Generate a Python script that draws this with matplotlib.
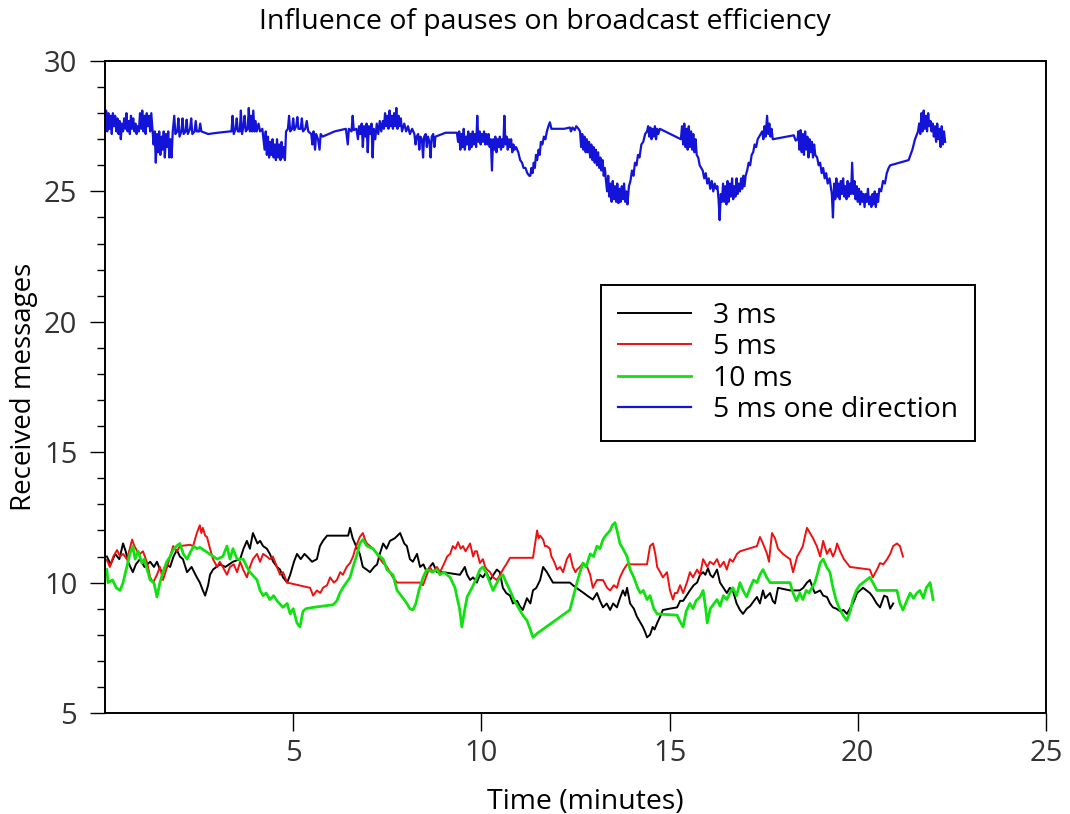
import matplotlib
matplotlib.use("Agg")
import matplotlib.pyplot as plt
from matplotlib.ticker import MultipleLocator

plt.rcParams['font.family'] = ['Open Sans', 'DejaVu Sans']

TITLE = "Influence of pauses on broadcast efficiency"
XLABEL = "Time (minutes)"
YLABEL = "Received messages"
LABELS = ["3 ms", "5 ms", "10 ms", "5 ms one direction"]
COLORS = ["#000000", "#ee1111", "#11e011", "#1414d8"]
XTICKS = [5, 10, 15, 20, 25]
YTICKS = [5, 10, 15, 20, 25, 30]

black_pts = [
    (0.05, 11.0), (0.15, 10.7), (0.27, 11.1), (0.38, 10.9), (0.48, 11.5), (0.55, 11.2), (0.61, 10.8),
    (0.74, 10.4), (0.82, 10.7), (0.93, 10.9), (1.05, 10.6), (1.20, 10.8), (1.30, 10.6), (1.38, 10.8),
    (1.46, 10.5), (1.54, 10.4), (1.62, 10.7), (1.73, 10.6), (1.82, 11.0), (1.91, 11.25), (1.99, 11.0),
    (2.07, 10.9), (2.18, 10.4), (2.30, 10.6), (2.44, 10.2), (2.52, 10.0), (2.60, 9.7), (2.66, 9.5),
    (2.74, 9.9), (2.79, 10.3), (2.87, 10.5), (3.05, 10.7), (3.20, 10.6), (3.40, 10.8), (3.59, 10.9),
    (3.68, 11.3), (3.77, 11.6), (3.85, 11.3), (3.93, 11.9), (4.05, 11.5), (4.12, 11.6), (4.20, 11.4),
    (4.30, 11.3), (4.38, 11.1), (4.47, 10.8), (4.57, 10.6), (4.65, 10.5), (4.73, 10.2), (4.84, 10.0),
    (4.92, 10.3), (5.02, 10.8), (5.10, 11.1), (5.20, 10.9), (5.30, 11.1), (5.37, 11.0), (5.50, 10.8),
    (5.63, 10.9), (5.71, 11.4), (5.79, 11.6), (5.90, 11.8), (6.46, 11.8), (6.51, 12.1), (6.58, 11.7),
    (6.64, 11.5), (6.70, 11.3), (6.77, 11.1), (6.85, 10.6), (6.95, 10.5), (7.04, 10.4), (7.15, 10.6),
    (7.23, 10.7), (7.30, 11.1), (7.39, 11.5), (7.48, 11.3), (7.57, 11.6), (7.70, 11.7), (7.84, 11.9),
    (7.95, 11.5), (8.02, 11.4), (8.10, 10.9), (8.18, 10.8), (8.29, 11.1), (8.37, 10.6), (8.46, 10.7),
    (8.55, 10.4), (8.63, 10.6), (8.71, 10.75), (8.82, 10.4), (8.98, 10.4), (9.43, 10.3), (9.56, 10.6),
    (9.62, 10.3), (9.70, 10.1), (9.78, 10.2), (9.88, 10.0), (9.96, 10.3), (10.04, 10.2), (10.13, 10.4),
    (10.23, 10.1), (10.32, 10.3), (10.41, 10.5), (10.49, 10.4), (10.57, 9.8), (10.66, 9.6), (10.76, 9.5),
    (10.84, 9.2), (10.95, 9.3), (11.02, 9.1), (11.10, 8.95), (11.21, 9.4), (11.30, 9.2), (11.37, 9.7),
    (11.46, 9.8), (11.56, 10.1), (11.64, 10.6), (11.74, 10.4), (11.82, 10.2), (11.90, 10.0),
    (12.35, 10.0), (12.43, 9.9), (12.52, 9.8), (12.62, 9.7), (12.72, 9.6), (12.81, 9.5), (12.96, 9.35),
    (13.07, 9.6), (13.15, 9.3), (13.23, 9.05), (13.33, 9.2), (13.42, 8.95), (13.50, 9.2), (13.60, 9.05),
    (13.68, 9.4), (13.76, 9.7), (13.82, 9.5), (13.87, 9.8), (13.95, 9.2), (14.05, 9.0), (14.13, 8.7),
    (14.21, 8.5), (14.29, 8.3), (14.35, 8.1), (14.40, 7.9), (14.48, 8.0), (14.55, 8.3), (14.60, 8.2),
    (14.67, 8.45), (14.75, 8.7), (14.82, 8.95), (15.00, 9.0), (15.20, 9.05), (15.28, 9.3), (15.36, 9.3),
    (15.45, 9.5), (15.54, 9.7), (15.64, 9.9), (15.73, 10.0), (15.81, 10.3), (15.89, 10.4), (15.95, 10.3),
    (16.02, 10.55), (16.08, 10.3), (16.15, 10.2), (16.26, 10.5), (16.34, 10.0), (16.43, 9.8),
    (16.52, 9.6), (16.60, 9.8), (16.68, 9.7), (16.78, 9.2), (16.87, 8.95), (16.95, 8.8), (17.05, 9.0),
    (17.14, 9.1), (17.24, 9.3), (17.32, 9.45), (17.40, 9.2), (17.48, 9.7), (17.54, 9.4), (17.60, 9.5),
    (17.67, 9.6), (17.74, 9.3), (17.80, 9.2), (17.88, 9.8), (18.20, 9.7), (18.46, 9.7), (18.55, 9.8),
    (18.65, 10.0), (18.73, 10.1), (18.80, 9.8), (18.86, 9.6), (19.00, 9.7), (19.08, 9.5), (19.18, 9.45),
    (19.26, 9.2), (19.34, 9.05), (19.43, 9.0), (19.53, 8.9), (19.62, 8.95), (19.71, 8.8), (19.79, 9.0),
    (19.87, 9.2), (19.93, 9.4), (19.98, 9.6), (20.06, 9.7), (20.14, 9.8), (20.23, 9.7), (20.32, 9.6),
    (20.40, 9.45), (20.50, 9.2), (20.59, 9.05), (20.65, 9.3), (20.70, 9.5), (20.78, 9.45), (20.86, 9.0),
    (20.94, 9.2),
]

red_pts = [
    (0.05, 10.87), (0.13, 10.6), (0.22, 11.0), (0.32, 11.25), (0.40, 11.0), (0.48, 11.1), (0.58, 10.9),
    (0.66, 11.3), (0.72, 11.65), (0.78, 11.4), (0.86, 11.2), (0.93, 11.1), (1.01, 11.2), (1.12, 10.75),
    (1.20, 10.2), (1.28, 10.0), (1.38, 10.3), (1.46, 10.6), (1.54, 10.1), (1.65, 10.6), (1.73, 11.0),
    (1.81, 11.4), (1.91, 11.2), (1.99, 11.4), (2.26, 11.45), (2.34, 11.4), (2.44, 11.9), (2.52, 12.2),
    (2.56, 11.9), (2.60, 12.1), (2.66, 11.8), (2.71, 11.75), (2.79, 11.3), (2.87, 10.9), (2.98, 10.6),
    (3.05, 10.8), (3.13, 10.6), (3.24, 10.3), (3.32, 10.6), (3.42, 10.7), (3.51, 10.4), (3.59, 10.8),
    (3.67, 10.5), (3.77, 10.2), (3.85, 10.6), (3.93, 10.9), (4.04, 11.1), (4.12, 10.8), (4.20, 11.1),
    (4.30, 11.0), (4.38, 10.9), (4.46, 11.0), (4.57, 10.6), (4.65, 10.3), (4.73, 10.4), (4.84, 10.0),
    (5.45, 9.8), (5.53, 9.5), (5.63, 9.7), (5.72, 9.6), (5.79, 9.8), (5.90, 9.9), (5.98, 10.2),
    (6.08, 10.0), (6.16, 10.1), (6.25, 10.4), (6.32, 10.3), (6.42, 10.6), (6.51, 10.75), (6.59, 11.0),
    (6.65, 11.3), (6.70, 11.5), (6.77, 11.75), (6.85, 11.9), (6.92, 11.6), (6.96, 11.5), (7.04, 11.4),
    (7.12, 11.3), (7.23, 11.1), (7.31, 10.9), (7.39, 10.75), (7.49, 10.6), (7.57, 10.4), (7.65, 10.2),
    (7.76, 10.0), (8.37, 10.0), (8.45, 9.9), (8.55, 10.3), (8.63, 10.6), (8.71, 10.4), (8.82, 10.6),
    (8.90, 10.4), (9.00, 10.7), (9.09, 11.0), (9.17, 11.1), (9.24, 11.4), (9.31, 11.3), (9.38, 11.55),
    (9.45, 11.3), (9.51, 11.4), (9.58, 11.2), (9.62, 11.3), (9.70, 11.5), (9.78, 11.0), (9.83, 11.2),
    (9.88, 11.2), (9.96, 10.75), (10.04, 10.9), (10.10, 10.6), (10.15, 10.5), (10.23, 10.4),
    (10.31, 10.2), (10.41, 10.1), (10.50, 10.3), (10.57, 10.5), (10.66, 10.7), (10.76, 10.95),
    (11.37, 10.95), (11.48, 12.0), (11.52, 11.7), (11.56, 11.8), (11.64, 11.65), (11.69, 11.4),
    (11.74, 11.4), (11.82, 11.3), (11.86, 11.0), (11.90, 10.9), (11.96, 10.7), (12.01, 10.5),
    (12.09, 10.6), (12.17, 10.4), (12.27, 10.9), (12.35, 11.1), (12.43, 10.6), (12.50, 10.4),
    (12.54, 10.5), (12.62, 10.6), (12.70, 10.75), (12.81, 10.6), (12.89, 10.3), (12.96, 9.8),
    (13.07, 10.1), (13.23, 10.1), (13.34, 9.8), (13.42, 9.7), (13.52, 9.9), (13.60, 9.8), (13.68, 10.2),
    (13.78, 10.5), (13.87, 10.7), (14.40, 10.7), (14.48, 11.4), (14.56, 11.5), (14.62, 11.1),
    (14.67, 10.6), (14.75, 10.4), (14.82, 10.2), (14.93, 10.4), (15.01, 9.7), (15.09, 9.35), (15.14, 9.6),
    (15.20, 9.6), (15.28, 9.9), (15.36, 9.6), (15.46, 10.0), (15.54, 10.4), (15.62, 10.2), (15.73, 10.5),
    (15.81, 10.3), (15.89, 10.9), (16.00, 10.6), (16.07, 10.8), (16.17, 10.7), (16.26, 10.9),
    (16.34, 10.6), (16.44, 10.8), (16.52, 10.5), (16.60, 10.9), (16.68, 10.8), (16.79, 11.1),
    (16.87, 11.2), (17.32, 11.4), (17.40, 11.75), (17.48, 11.5), (17.59, 11.1), (17.64, 10.8),
    (17.72, 11.9), (17.80, 11.7), (17.88, 11.3), (18.01, 11.1), (18.10, 11.0), (18.20, 10.9),
    (18.28, 10.4), (18.39, 11.0), (18.47, 11.2), (18.54, 11.4), (18.60, 11.8), (18.65, 12.1),
    (18.73, 11.9), (18.81, 11.7), (18.91, 11.4), (19.00, 11.0), (19.08, 11.6), (19.18, 11.1),
    (19.26, 11.3), (19.34, 11.0), (19.40, 11.2), (19.45, 11.5), (19.53, 11.2), (19.63, 10.9),
    (19.71, 10.75), (19.79, 10.6), (20.32, 10.5), (20.40, 10.2), (20.51, 10.5), (20.59, 10.75),
    (20.68, 10.7), (20.78, 10.9), (20.86, 11.1), (20.94, 11.4), (21.04, 11.5), (21.12, 11.4),
    (21.20, 11.0),
]

green_pts = [
    (0.05, 10.5), (0.08, 10.0), (0.20, 10.1), (0.30, 9.8), (0.40, 9.7), (0.48, 10.0), (0.58, 10.6),
    (0.66, 11.1), (0.74, 11.4), (0.80, 10.9), (0.88, 11.2), (0.98, 10.75), (1.04, 10.9), (1.20, 10.1),
    (1.30, 10.0), (1.38, 9.45), (1.46, 10.0), (1.54, 10.4), (1.64, 10.8), (1.73, 11.0), (1.81, 11.25),
    (1.90, 11.4), (1.99, 11.5), (2.08, 11.1), (2.18, 10.9), (2.28, 11.2), (2.36, 11.4), (2.44, 11.3),
    (2.52, 11.35), (2.98, 10.9), (3.13, 11.0), (3.24, 11.4), (3.32, 10.9), (3.40, 11.3), (3.51, 10.9),
    (3.67, 10.9), (3.77, 10.6), (3.85, 10.4), (4.04, 10.1), (4.12, 9.7), (4.20, 9.5), (4.28, 9.6),
    (4.38, 9.35), (4.48, 9.5), (4.57, 9.3), (4.73, 9.05), (4.84, 9.2), (4.92, 8.8), (5.00, 9.0),
    (5.10, 8.45), (5.18, 8.3), (5.26, 8.9), (5.34, 9.0), (5.53, 9.05), (6.06, 9.15), (6.16, 9.3),
    (6.24, 9.6), (6.32, 9.8), (6.51, 10.2), (6.59, 10.6), (6.70, 11.1), (6.77, 11.5), (6.85, 11.65),
    (6.96, 11.4), (7.12, 11.3), (7.23, 11.1), (7.39, 10.9), (7.49, 10.5), (7.65, 10.3), (7.76, 9.7),
    (7.92, 9.4), (8.02, 9.2), (8.10, 9.0), (8.18, 8.95), (8.26, 9.2), (8.34, 9.7), (8.45, 10.2),
    (8.55, 10.5), (8.70, 10.4), (8.82, 10.5), (8.90, 10.3), (9.00, 10.4), (9.17, 10.2), (9.30, 9.8),
    (9.35, 9.45), (9.42, 9.0), (9.48, 8.3), (9.55, 8.9), (9.62, 9.45), (9.75, 9.8), (9.88, 10.2),
    (9.96, 10.5), (10.04, 10.6), (10.12, 10.4), (10.20, 10.1), (10.31, 9.7), (10.38, 9.9),
    (10.49, 10.2), (10.57, 10.3), (10.66, 10.0), (10.76, 9.7), (10.88, 9.3), (10.98, 9.05),
    (11.10, 8.75), (11.21, 8.55), (11.30, 8.2), (11.37, 7.9), (11.48, 8.05), (12.35, 8.95),
    (12.45, 9.5), (12.54, 10.0), (12.62, 10.4), (12.70, 10.75), (12.78, 10.6), (12.89, 11.1),
    (12.98, 11.0), (13.07, 11.4), (13.15, 11.3), (13.23, 11.65), (13.30, 11.8), (13.42, 12.0),
    (13.48, 12.2), (13.55, 12.3), (13.62, 11.9), (13.68, 11.5), (13.76, 11.3), (13.87, 11.0),
    (13.95, 10.5), (14.05, 10.2), (14.15, 9.8), (14.22, 9.6), (14.30, 9.7), (14.40, 9.35), (14.48, 9.5),
    (14.58, 9.0), (14.67, 8.8), (15.20, 8.75), (15.28, 8.5), (15.36, 8.3), (15.44, 8.9), (15.54, 9.2),
    (15.62, 9.0), (15.70, 9.3), (15.81, 9.45), (15.89, 9.7), (15.96, 9.0), (16.00, 8.45), (16.08, 9.0),
    (16.26, 9.35), (16.34, 9.1), (16.43, 9.5), (16.52, 9.35), (16.60, 9.6), (16.68, 9.8), (16.78, 9.5),
    (16.87, 10.0), (16.95, 9.7), (17.05, 9.45), (17.14, 9.8), (17.23, 10.1), (17.32, 10.0), (17.40, 10.3),
    (17.48, 10.5), (17.58, 10.2), (17.67, 10.0), (18.20, 10.0), (18.28, 9.6), (18.37, 9.3), (18.46, 9.6),
    (18.54, 9.35), (18.63, 9.7), (18.70, 9.6), (18.78, 9.8), (18.86, 10.0), (18.94, 10.4), (19.00, 10.75),
    (19.08, 10.9), (19.17, 10.6), (19.26, 10.4), (19.34, 9.8), (19.43, 9.3), (19.53, 8.95), (19.63, 8.7),
    (19.71, 8.55), (19.80, 8.9), (19.87, 9.35), (19.96, 9.7), (20.05, 9.9), (20.14, 10.0), (20.23, 10.1),
    (20.32, 10.2), (20.40, 10.0), (20.51, 9.7), (21.04, 9.7), (21.12, 9.2), (21.20, 8.95), (21.30, 9.3),
    (21.39, 9.6), (21.48, 9.4), (21.57, 9.6), (21.65, 9.7), (21.74, 9.4), (21.82, 9.8), (21.92, 10.0),
    (22.00, 9.35),
]

blue_pts = [
    (0.00, 27.5), (0.03, 28.1), (0.06, 27.3), (0.09, 28.0), (0.12, 27.4), (0.15, 27.9), (0.18, 27.2),
    (0.21, 28.0), (0.24, 27.5), (0.27, 27.9), (0.30, 27.3), (0.33, 27.8), (0.36, 27.2), (0.39, 27.7),
    (0.42, 27.0), (0.45, 27.6), (0.48, 27.3), (0.51, 27.8), (0.54, 27.4), (0.57, 28.0), (0.60, 27.3),
    (0.63, 27.7), (0.66, 27.2), (0.69, 27.9), (0.72, 27.4), (0.75, 27.8), (0.78, 27.3), (0.81, 27.6),
    (0.84, 27.2), (0.87, 27.5), (0.90, 27.3), (0.93, 28.0), (0.96, 27.4), (0.99, 28.1), (1.02, 27.3),
    (1.05, 27.9), (1.08, 27.2), (1.11, 28.0), (1.14, 27.5), (1.17, 27.9), (1.20, 27.3), (1.23, 28.0),
    (1.26, 27.4),
    (1.29, 26.8), (1.32, 27.3), (1.35, 26.1), (1.38, 27.2), (1.41, 26.5), (1.44, 27.3), (1.47, 26.4),
    (1.50, 27.1), (1.53, 26.6), (1.56, 27.3), (1.59, 26.3), (1.62, 27.2), (1.65, 26.7), (1.68, 27.3),
    (1.71, 26.3), (1.74, 27.0), (1.77, 26.3),
    (1.80, 27.3), (1.84, 27.9), (1.87, 27.2), (1.92, 27.3), (1.95, 27.8), (1.98, 27.1), (2.03, 27.3),
    (2.06, 27.8), (2.09, 27.2), (2.14, 27.3), (2.17, 27.75), (2.20, 27.2), (2.26, 27.4), (2.29, 27.8),
    (2.32, 27.2), (2.38, 27.3), (2.41, 27.7), (2.44, 27.3), (2.50, 27.3), (2.53, 27.6), (2.56, 27.3),
    (2.65, 27.25), (2.74, 27.2),
    (3.00, 27.25), (3.32, 27.3),
    (3.36, 27.3), (3.39, 27.9), (3.42, 27.2), (3.47, 27.4), (3.50, 27.8), (3.53, 27.3), (3.58, 27.3),
    (3.61, 28.1), (3.64, 27.2), (3.68, 27.5), (3.71, 27.9), (3.74, 27.3), (3.79, 27.4), (3.82, 28.2),
    (3.85, 27.3), (3.88, 27.9), (3.91, 27.3), (3.94, 28.1), (3.97, 27.3), (4.00, 27.7), (4.03, 27.3),
    (4.08, 27.6), (4.12, 27.3), (4.18, 27.4),
    (4.21, 27.0), (4.24, 26.6), (4.27, 27.3), (4.30, 26.4), (4.33, 27.1), (4.36, 26.3), (4.39, 26.9),
    (4.42, 26.4), (4.45, 27.0), (4.48, 26.3), (4.51, 26.8), (4.54, 26.2), (4.57, 27.0), (4.60, 26.3),
    (4.63, 26.8), (4.66, 26.2), (4.69, 26.9), (4.72, 26.3), (4.75, 26.7), (4.78, 26.2), (4.81, 27.3),
    (4.86, 27.4), (4.89, 27.9), (4.92, 27.3), (4.97, 27.4), (5.00, 27.8), (5.03, 27.35), (5.08, 27.5),
    (5.11, 27.85), (5.14, 27.4), (5.20, 27.4), (5.23, 27.8), (5.26, 27.3), (5.32, 27.4), (5.36, 27.7),
    (5.40, 27.3),
    (5.48, 27.2), (5.51, 26.8), (5.54, 27.3), (5.58, 26.6), (5.61, 27.2), (5.66, 27.0), (5.70, 26.6),
    (5.73, 27.2), (5.78, 27.1),
    (6.10, 27.3), (6.40, 27.4),
    (6.45, 26.8), (6.48, 27.4), (6.55, 27.3), (6.58, 27.9), (6.61, 27.35), (6.68, 27.4),
    (6.72, 27.0), (6.75, 27.5), (6.78, 27.2), (6.82, 27.6), (6.85, 26.7), (6.88, 27.5), (6.92, 27.1),
    (6.95, 27.6), (6.98, 26.5), (7.01, 27.5), (7.05, 27.2), (7.08, 27.6), (7.11, 26.3), (7.14, 27.4),
    (7.18, 27.0), (7.22, 27.6), (7.26, 27.2), (7.30, 27.7), (7.34, 27.3), (7.38, 27.7),
    (7.41, 27.4), (7.44, 28.0), (7.47, 27.5), (7.50, 27.9), (7.53, 27.4), (7.56, 28.1), (7.59, 27.5),
    (7.62, 27.9), (7.65, 27.4), (7.68, 28.0), (7.71, 27.5), (7.74, 28.2), (7.77, 27.4), (7.80, 27.9),
    (7.83, 27.5), (7.86, 27.8), (7.89, 27.3),
    (7.95, 27.6), (8.00, 27.3), (8.05, 27.5), (8.10, 27.2), (8.16, 27.4),
    (8.22, 27.2), (8.25, 26.8), (8.28, 27.1), (8.32, 27.2), (8.35, 26.6), (8.38, 27.1), (8.42, 27.0),
    (8.45, 26.3), (8.48, 27.1), (8.52, 27.2), (8.55, 26.7), (8.58, 27.1), (8.62, 26.9), (8.65, 26.3),
    (8.68, 27.1), (8.72, 27.2), (8.75, 26.7), (8.78, 27.1),
    (9.05, 27.25), (9.35, 27.25),
    (9.38, 26.9), (9.41, 27.3), (9.44, 26.6), (9.47, 27.2), (9.50, 26.7), (9.53, 27.4), (9.56, 26.6),
    (9.59, 27.1), (9.62, 26.8), (9.65, 27.3), (9.68, 26.6), (9.71, 27.2), (9.74, 26.7), (9.77, 27.3),
    (9.80, 26.8), (9.83, 27.2), (9.86, 26.7), (9.89, 27.9), (9.92, 26.9), (9.95, 27.3), (9.98, 26.8),
    (10.01, 27.2), (10.04, 26.9), (10.07, 27.3), (10.10, 26.8), (10.13, 27.2), (10.16, 26.8),
    (10.19, 27.2),
    (10.22, 26.7), (10.25, 27.0), (10.28, 25.8), (10.31, 27.0), (10.34, 26.6), (10.37, 27.1),
    (10.40, 26.5), (10.43, 27.0), (10.46, 26.7), (10.49, 27.1), (10.52, 26.6), (10.55, 27.0),
    (10.58, 26.7), (10.61, 27.9), (10.64, 26.8), (10.67, 27.1), (10.70, 26.6), (10.73, 27.0),
    (10.76, 26.7), (10.79, 27.0), (10.82, 26.5), (10.85, 26.8), (10.88, 26.6), (10.92, 26.7),
    (10.98, 26.5), (11.03, 26.2), (11.08, 26.1), (11.12, 25.9), (11.17, 25.9), (11.22, 25.7),
    (11.27, 25.6), (11.30, 25.6),
    (11.33, 25.9), (11.36, 25.7), (11.39, 26.1), (11.42, 25.9), (11.45, 26.4), (11.48, 26.2),
    (11.52, 26.6), (11.55, 26.4), (11.58, 26.9), (11.62, 26.8), (11.66, 27.1), (11.70, 27.0),
    (11.74, 27.3), (11.78, 27.5), (11.82, 27.65),
    (11.86, 27.4), (12.20, 27.4), (12.35, 27.45), (12.38, 27.3), (12.42, 27.45), (12.48, 27.35),
    (12.52, 27.5), (12.58, 27.4),
    (12.62, 27.3), (12.65, 26.7), (12.68, 27.2), (12.71, 26.6), (12.74, 27.1), (12.77, 26.5),
    (12.80, 27.0), (12.83, 26.5), (12.86, 26.9), (12.89, 26.3), (12.92, 26.8), (12.95, 26.2),
    (12.98, 26.7), (13.01, 26.1), (13.04, 26.6), (13.07, 26.0), (13.10, 26.5), (13.13, 25.9),
    (13.16, 26.3), (13.19, 25.8), (13.22, 26.2), (13.25, 25.6), (13.28, 25.9),
    (13.31, 25.4), (13.34, 25.0), (13.37, 25.6), (13.40, 24.8), (13.43, 25.3), (13.46, 24.6),
    (13.49, 25.4), (13.52, 24.7), (13.55, 25.2), (13.58, 24.6), (13.61, 25.3), (13.64, 24.55),
    (13.67, 25.1), (13.70, 24.6), (13.73, 25.2), (13.76, 24.7), (13.79, 25.3), (13.82, 24.6),
    (13.85, 25.0), (13.88, 24.5),
    (13.92, 25.2), (13.96, 25.4), (14.00, 25.8), (14.04, 25.6), (14.08, 26.1), (14.12, 26.0),
    (14.16, 26.4), (14.20, 26.3), (14.25, 26.8), (14.30, 26.9), (14.35, 27.2), (14.40, 27.3),
    (14.43, 27.5), (14.46, 27.1), (14.49, 27.45), (14.52, 27.0), (14.55, 27.4), (14.58, 27.1),
    (14.61, 27.5), (14.64, 27.0), (14.67, 27.4), (14.70, 27.2), (14.74, 27.4),
    (15.30, 27.0),
    (15.33, 27.5), (15.36, 26.8), (15.39, 27.6), (15.42, 26.7), (15.45, 27.4), (15.48, 26.6),
    (15.51, 27.5), (15.54, 26.7), (15.57, 27.3), (15.60, 26.6), (15.63, 27.2), (15.66, 26.5),
    (15.69, 27.0),
    (15.72, 26.4), (15.76, 26.3), (15.80, 26.0), (15.84, 25.9), (15.88, 25.8), (15.92, 25.5),
    (15.96, 25.7), (16.00, 25.3), (16.04, 25.5), (16.08, 25.1), (16.12, 25.4), (16.16, 25.0),
    (16.20, 25.3), (16.24, 25.1),
    (16.27, 25.2), (16.30, 24.7), (16.33, 23.9), (16.36, 24.9), (16.39, 24.6), (16.42, 25.3),
    (16.45, 24.6), (16.48, 25.2), (16.51, 24.5), (16.54, 25.4), (16.57, 24.6), (16.60, 25.3),
    (16.63, 24.8), (16.66, 25.5), (16.69, 24.7), (16.72, 25.2), (16.75, 24.8), (16.78, 25.5),
    (16.81, 24.9), (16.84, 25.3), (16.87, 25.0), (16.90, 25.5), (16.93, 25.1), (16.96, 25.6),
    (16.99, 25.2), (17.02, 25.6),
    (17.06, 25.8), (17.10, 26.1), (17.14, 26.0), (17.18, 26.4), (17.22, 26.5), (17.26, 26.8),
    (17.30, 26.7), (17.34, 27.0), (17.38, 27.1), (17.42, 27.2), (17.46, 27.3),
    (17.49, 27.0), (17.52, 27.5), (17.55, 27.1), (17.59, 27.9), (17.62, 27.2), (17.65, 27.6),
    (17.68, 27.1), (17.71, 27.4), (17.74, 27.0),
    (18.30, 27.15), (18.35, 26.95), (18.40, 27.0),
    (18.42, 27.3), (18.45, 26.6), (18.48, 27.35), (18.51, 26.5), (18.54, 27.2), (18.57, 26.4),
    (18.60, 27.3), (18.63, 26.6), (18.66, 27.1), (18.69, 26.3), (18.72, 27.0), (18.75, 26.5),
    (18.78, 26.9), (18.81, 26.3), (18.84, 26.8), (18.87, 26.4),
    (18.92, 26.3), (18.96, 26.0), (19.00, 26.1), (19.04, 25.7), (19.08, 25.9), (19.12, 25.5),
    (19.16, 25.7), (19.20, 25.3), (19.25, 25.5), (19.28, 25.2),
    (19.31, 24.9), (19.34, 24.0), (19.37, 25.3), (19.40, 24.7), (19.43, 25.5), (19.46, 24.8),
    (19.49, 25.3), (19.52, 24.7), (19.55, 25.4), (19.58, 24.9), (19.61, 25.5), (19.64, 24.8),
    (19.67, 25.2), (19.70, 24.7), (19.73, 25.4), (19.76, 24.8), (19.79, 25.3), (19.82, 24.9),
    (19.85, 26.1), (19.88, 24.9), (19.91, 25.4), (19.94, 24.7), (19.97, 25.2), (20.00, 24.6),
    (20.03, 25.1), (20.06, 24.5), (20.09, 25.0), (20.12, 24.6), (20.15, 24.9), (20.18, 24.4),
    (20.21, 24.9), (20.24, 24.6), (20.27, 25.1), (20.30, 24.5), (20.33, 24.8), (20.36, 24.4),
    (20.39, 24.9), (20.42, 24.5), (20.45, 25.0), (20.48, 24.4), (20.51, 24.9), (20.54, 24.6),
    (20.57, 25.1),
    (20.62, 25.0), (20.67, 25.4), (20.72, 25.3), (20.77, 25.7), (20.82, 25.9), (20.86, 26.0),
    (21.35, 26.2), (21.45, 26.6), (21.52, 27.0), (21.60, 27.3),
    (21.63, 27.6), (21.66, 27.2), (21.69, 28.0), (21.72, 27.3), (21.75, 28.1), (21.78, 27.4),
    (21.81, 27.9), (21.84, 27.3), (21.87, 28.0), (21.90, 27.5), (21.93, 27.7), (21.96, 27.3),
    (21.99, 27.6),
    (22.02, 27.1), (22.05, 27.5), (22.08, 26.9), (22.11, 27.6), (22.14, 27.0), (22.17, 27.4),
    (22.20, 26.7), (22.23, 27.5), (22.26, 26.8), (22.29, 27.3), (22.32, 26.9),
]

series = [black_pts, red_pts, green_pts, blue_pts]
widths = [1.4, 1.4, 2.0, 1.6]

fig = plt.figure(figsize=(10.70, 8.14), dpi=100)
ax = fig.add_axes([105 / 1070, 1 - 713 / 814, (1046 - 105) / 1070, (713 - 61) / 814])

for pts, lab, col, lw in zip(series, LABELS, COLORS, widths):
    xs = [p[0] for p in pts]
    ys = [p[1] for p in pts]
    ax.plot(xs, ys, color=col, lw=lw, label=lab)

ax.set_xlim(0, 25)
ax.set_ylim(5, 30)
ax.set_xticks(XTICKS)
ax.set_yticks(YTICKS)
ax.yaxis.set_minor_locator(MultipleLocator(1))
ax.tick_params(axis='y', which='major', direction='out', length=11, width=1.0, labelsize=21, pad=9,
               right=False)
ax.tick_params(axis='y', which='minor', direction='out', length=6, width=1.0, right=False)
ax.tick_params(axis='x', which='major', direction='out', length=13, width=1.0, labelsize=21, pad=6,
               top=False)
for s in ax.spines.values():
    s.set_linewidth(1.4)
for lbl in ax.get_xticklabels() + ax.get_yticklabels():
    lbl.set_color('#333333')

ax.set_title(TITLE, fontsize=20.5, pad=23, x=(545 - 105) / 941)
ax.set_xlabel(XLABEL, fontsize=20.4, labelpad=11)
ax.xaxis.set_label_coords((585 - 105) / 941, -0.115)
ax.set_ylabel(YLABEL, fontsize=20, labelpad=4)

leg = ax.legend(loc='upper left', bbox_to_anchor=((601 - 105) / 941, (713 - 285) / 652),
                fontsize=20.3, frameon=True, fancybox=False, edgecolor='black', framealpha=1,
                handlelength=2.6, handletextpad=0.78, labelspacing=0.12, borderpad=0.6,
                borderaxespad=0)
leg.get_frame().set_linewidth(1.4)

fig.savefig("out.png", dpi=100)
